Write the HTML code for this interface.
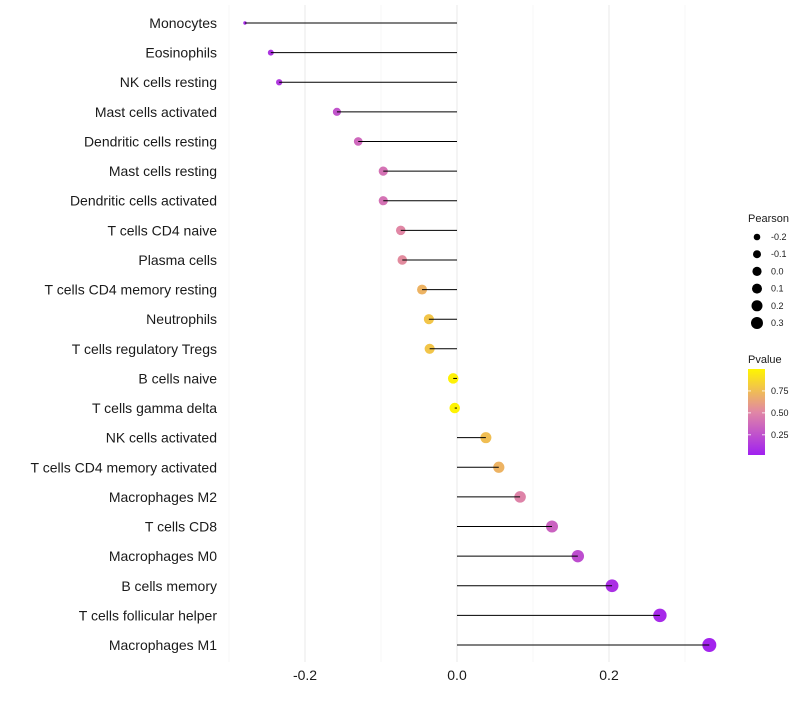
<!DOCTYPE html>
<html><head><meta charset="utf-8"><style>
body{margin:0;background:#fff;font-family:"Liberation Sans",sans-serif}
</style></head><body>
<svg id="c" width="800" height="700" xmlns="http://www.w3.org/2000/svg"></svg>
<script>
const categories=["Monocytes","Eosinophils","NK cells resting","Mast cells activated","Dendritic cells resting","Mast cells resting","Dendritic cells activated","T cells CD4 naive","Plasma cells","T cells CD4 memory resting","Neutrophils","T cells regulatory  Tregs ","B cells naive","T cells gamma delta","NK cells activated","T cells CD4 memory activated","Macrophages M2","T cells CD8","Macrophages M0","B cells memory","T cells follicular helper","Macrophages M1"];
const pearson=[-0.279,-0.245,-0.234,-0.158,-0.130,-0.097,-0.097,-0.074,-0.072,-0.046,-0.037,-0.036,-0.005,-0.003,0.038,0.055,0.083,0.125,0.159,0.204,0.267,0.332];
const pvalue=[0.05,0.1,0.12,0.25,0.35,0.4,0.4,0.5,0.52,0.7,0.78,0.78,0.98,0.99,0.75,0.7,0.48,0.32,0.22,0.08,0.05,0.02];
const xTicks=[-0.2,0,0.2];
const xTickLabels=["-0.2","0.0","0.2"];
const legendSizes=[-0.2,-0.1,0.0,0.1,0.2,0.3];
const legendSizeLabels=["-0.2","-0.1","0.0","0.1","0.2","0.3"];
const pTicks=[0.25,0.5,0.75];
const pTickLabels=["0.25","0.50","0.75"];

const NS="http://www.w3.org/2000/svg";
const svg=document.getElementById('c');
function mk(t,a,p){const e=document.createElementNS(NS,t);for(const k in a)e.setAttribute(k,a[k]);(p||svg).appendChild(e);return e;}
const x=v=>457+v*760;
const y=i=>23+i*(645-23)/21;
const C0=[160,32,240],C1=[225,135,165],C2=[255,245,0];
const col=p=>{let a,b,t;if(p<0.5){a=C0;b=C1;t=p/0.5;}else{a=C1;b=C2;t=(p-0.5)/0.5;}return `rgb(${a.map((c,j)=>Math.round(c+(b[j]-c)*t)).join(',')})`;};
const vmin=Math.min(...pearson),vmax=Math.max(...pearson);
const rad=v=>1.7+5.3*Math.sqrt(Math.max(0,(v-vmin)/(vmax-vmin)));

[-0.3,-0.1,0.1,0.3].forEach(v=>{const g=mk('line',{x1:x(v),x2:x(v),y1:5,y2:662,stroke:'#f2f2f2','stroke-width':0.6});

});
xTicks.forEach((v,i)=>{const g=mk('line',{x1:x(v),x2:x(v),y1:5,y2:662,stroke:'#ebebeb','stroke-width':1.1});


const t=mk('text',{x:x(v),y:680,'text-anchor':'middle','font-size':14,fill:'#1a1a1a'});t.textContent=xTickLabels[i];

});

categories.forEach((c,i)=>{
const t=mk('text',{x:217,y:y(i)+5,'text-anchor':'end','font-size':14,fill:'#1a1a1a'});t.textContent=c;


const d=mk('circle',{cx:x(pearson[i]),cy:y(i),r:rad(pearson[i]),fill:col(pvalue[i])});


const l=mk('line',{x1:x(0),x2:x(pearson[i]),y1:y(i),y2:y(i),stroke:'#000','stroke-width':1});


});

const lt=mk('text',{x:748,y:222,'font-size':11,fill:'#1a1a1a'});lt.textContent='Pearson';


const lr=[3.3,4,4.6,5,5.5,6];
legendSizes.forEach((v,i)=>{const yy=237+i*17.2;
const d=mk('circle',{cx:757,cy:yy,r:lr[i],fill:'#000'});


const t=mk('text',{x:771,y:yy+3,'font-size':9,fill:'#1a1a1a'});t.textContent=legendSizeLabels[i];

});
const pt=mk('text',{x:748,y:363,'font-size':11,fill:'#1a1a1a'});pt.textContent='Pvalue';


const defs=mk('defs',{});const gr=mk('linearGradient',{id:'g',x1:0,y1:1,x2:0,y2:0},defs);
[0,0.25,0.5,0.75,1].forEach(o=>mk('stop',{offset:o,'stop-color':col(o)},gr));
const bar=mk('rect',{x:748,y:369,width:17,height:86,fill:'url(#g)'});


pTicks.forEach((p,i)=>{const yy=455-(p-0.02)/0.98*86;
mk('line',{x1:748,x2:751,y1:yy,y2:yy,stroke:'#fff','stroke-width':0.8});mk('line',{x1:762,x2:765,y1:yy,y2:yy,stroke:'#fff','stroke-width':0.8});
const t=mk('text',{x:771,y:yy+3,'font-size':9,fill:'#1a1a1a'});t.textContent=pTickLabels[i];

});
</script>
</body></html>
